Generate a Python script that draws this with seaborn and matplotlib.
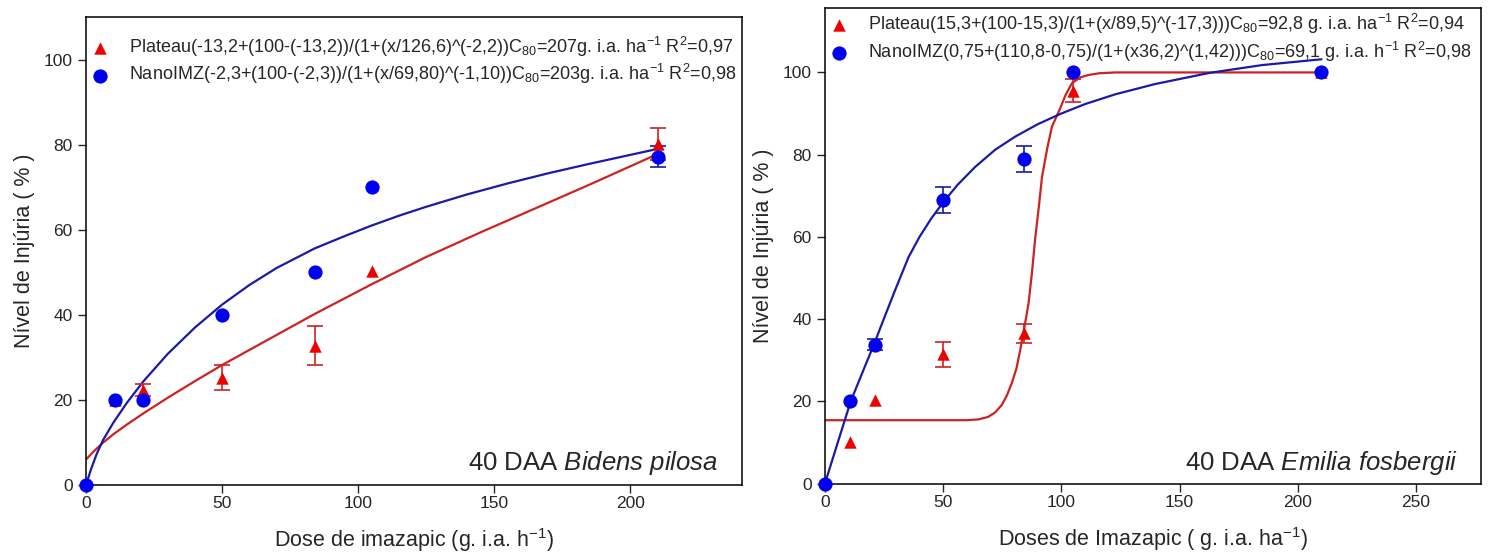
import numpy as np
import pandas as pd
import matplotlib
matplotlib.use("Agg")
import matplotlib.pyplot as plt
import seaborn as sns

# doses (g i.a. ha-1)
doses = [0, 10.5, 21, 50, 84, 105, 210]

# Bidens pilosa
bidens_plateau = [0, 20, 22.4, 25.2, 32.7, 50.2, 80.2]
bidens_plateau_err = [0, 0, 1.4, 2.9, 4.6, 0, 3.7]
bidens_nano = [0, 20, 20, 40, 50.1, 70, 77.2]
bidens_nano_err = [0, 0, 0, 0, 0, 0, 2.4]

# Emilia fosbergii
emilia_plateau = [0, 10.2, 20.3, 31.4, 36.5, 95.6, 100]
emilia_plateau_err = [0, 0, 0, 3.1, 2.3, 2.7, 0]
emilia_nano = [0, 20, 33.8, 69, 79, 100, 100]
emilia_nano_err = [0, 0, 1.3, 3.2, 3.2, 0, 0]

# curvas ajustadas
bp_plat_cx = [0, 3, 6, 10, 15, 21, 30, 40, 50, 65, 84, 105, 125, 145, 165, 185, 210]
bp_plat_cy = [6, 8, 9.8, 11.9, 14.2, 16.8, 20.5, 24.4, 28.2, 33.5, 40.2, 47.2, 53.6, 59.4, 65, 70.6, 77.8]
bp_nano_cx = [0, 2, 4, 6.3, 10, 15, 21, 30, 40, 50, 60, 70, 84, 95, 105, 115, 125, 140,
              155, 170, 185, 200, 210]
bp_nano_cy = [0, 4, 7.4, 10.6, 14.6, 19.3, 24.3, 30.8, 37, 42.4, 47, 51, 55.6, 58.5, 61, 63.3,
              65.4, 68.3, 70.9, 73.3, 75.5, 77.6, 79]

ef_plat_cx = [0, 60, 65, 69, 72, 74.8, 77, 79, 81, 82.6, 84.5, 86.1, 87.5, 89, 90.5,
              91.8, 94, 96, 99.5, 102, 104.5, 108, 111.6, 116, 123, 210]
ef_plat_cy = [15.4, 15.4, 15.6, 16.2, 17.3, 19.1, 21.5, 24.4, 28, 32.5, 38.5, 43.8, 51, 60, 67.5,
              74.6, 81.5, 86.8, 91.3, 94.8, 97.4, 98.8, 99.4, 99.8, 100, 100]
ef_nano_cx = [0, 5, 10.9, 15, 20.7, 25, 30, 35.3, 40, 45, 50, 56, 63.5, 72, 80.5, 90,
              99.5, 110, 122.9, 139.8, 162.7, 185, 210]
ef_nano_cy = [0, 9.2, 20, 25.8, 33.8, 40.2, 47.5, 55, 60, 64.5, 68.4, 72.6, 77, 81.2, 84.4, 87.4,
              89.9, 92.3, 94.7, 97.2, 99.9, 101.8, 103.2]

lab_bp_plat = "Plateau(-13,2+(100-(-13,2))/(1+(x/126,6)^(-2,2))C$_{80}$=207g. i.a. ha$^{-1}$ R$^{2}$=0,97"
lab_bp_nano = "NanoIMZ(-2,3+(100-(-2,3))/(1+(x/69,80)^(-1,10))C$_{80}$=203g. i.a. ha$^{-1}$ R$^{2}$=0,98"
lab_ef_plat = "Plateau(15,3+(100-15,3)/(1+(x/89,5)^(-17,3)))C$_{80}$=92,8 g. i.a. ha$^{-1}$ R$^{2}$=0,94"
lab_ef_nano = "NanoIMZ(0,75+(110,8-0,75)/(1+(x36,2)^(1,42)))C$_{80}$=69,1 g. i.a. h$^{-1}$ R$^{2}$=0,98"

sns.set_style("ticks")
plt.rcParams["font.family"] = ["Liberation Sans", "DejaVu Sans"]
plt.rcParams["mathtext.fontset"] = "custom"
plt.rcParams["mathtext.rm"] = "Liberation Sans"
plt.rcParams["mathtext.it"] = "Liberation Sans:italic"

RED_M = "#ee0000"
BLUE_M = "#0000ee"
RED_L = "#cc2222"
BLUE_L = "#1a1aa8"

fig = plt.figure(figsize=(14.98, 5.58), dpi=100)
ax1 = fig.add_axes([0.0574, 0.1308, 0.4379, 0.8387])
ax2 = fig.add_axes([0.5507, 0.1335, 0.4380, 0.8516])


def barras(ax, y, err, cor):
    # so desenha as barras onde existe erro
    d = pd.DataFrame({"x": doses, "y": y, "e": err})
    d = d[d["e"] > 0]
    ax.errorbar(d["x"], d["y"], yerr=d["e"], fmt="none", ecolor=cor, elinewidth=1.2,
                capsize=6, capthick=1.2, zorder=3)


def painel(ax, plat, plat_err, nano, nano_err, pcx, pcy, ncx, ncy, lab_p, lab_n):
    sns.lineplot(x=pcx, y=pcy, color=RED_L, lw=1.6, ax=ax, zorder=2)
    sns.lineplot(x=ncx, y=ncy, color=BLUE_L, lw=1.6, ax=ax, zorder=2)
    barras(ax, plat, plat_err, RED_L)
    barras(ax, nano, nano_err, BLUE_L)
    sns.scatterplot(x=doses, y=plat, marker="^", color=RED_M, s=80, linewidth=0,
                    ax=ax, zorder=4, label=lab_p)
    sns.scatterplot(x=doses, y=nano, marker="o", color=BLUE_M, s=105, linewidth=0,
                    ax=ax, zorder=5, label=lab_n, clip_on=False)
    ax.set_yticks([0, 20, 40, 60, 80, 100])
    ax.set_ylabel("Nível de Injúria ( % )", fontsize=15.5, labelpad=6)
    ax.tick_params(axis="both", labelsize=12.5, direction="out", length=6, width=1,
                   top=False, right=False)
    ax.tick_params(axis="x", pad=2)
    for s in ax.spines.values():
        s.set_linewidth(1.1)
        s.set_color("black")


painel(ax1, bidens_plateau, bidens_plateau_err, bidens_nano, bidens_nano_err,
       bp_plat_cx, bp_plat_cy, bp_nano_cx, bp_nano_cy, lab_bp_plat, lab_bp_nano)
ax1.set_xlim(0, 241)
ax1.set_ylim(0, 110)
ax1.set_xticks([0, 50, 100, 150, 200])
ax1.set_xlabel("Dose de imazapic (g. i.a. h$^{-1}$)", fontsize=15.5, labelpad=11)
ax1.text(0.963, 0.047, "40 DAA $\\mathit{Bidens\\ pilosa}$", transform=ax1.transAxes,
         ha="right", va="center", fontsize=18.5)
ax1.legend(loc="upper left", bbox_to_anchor=(0.0, 0.97), frameon=False, fontsize=13,
           handletextpad=1.0, labelspacing=0.2, borderaxespad=0, handlelength=1.2,
           borderpad=0.2)

painel(ax2, emilia_plateau, emilia_plateau_err, emilia_nano, emilia_nano_err,
       ef_plat_cx, ef_plat_cy, ef_nano_cx, ef_nano_cy, lab_ef_plat, lab_ef_nano)
ax2.set_xlim(0, 277.5)
ax2.set_ylim(0, 115.6)
ax2.set_xticks([0, 50, 100, 150, 200, 250])
ax2.set_xlabel("Doses de Imazapic ( g. i.a. ha$^{-1}$)", fontsize=15.5, labelpad=11)
ax2.text(0.965, 0.043, "40 DAA $\\mathit{Emilia\\ fosbergii}$", transform=ax2.transAxes,
         ha="right", va="center", fontsize=18.5)
ax2.legend(loc="upper left", bbox_to_anchor=(0.0, 1.0), frameon=False, fontsize=13,
           handletextpad=1.0, labelspacing=0.2, borderaxespad=0, handlelength=1.2,
           borderpad=0.2)

fig.savefig("out.png", dpi=100)
